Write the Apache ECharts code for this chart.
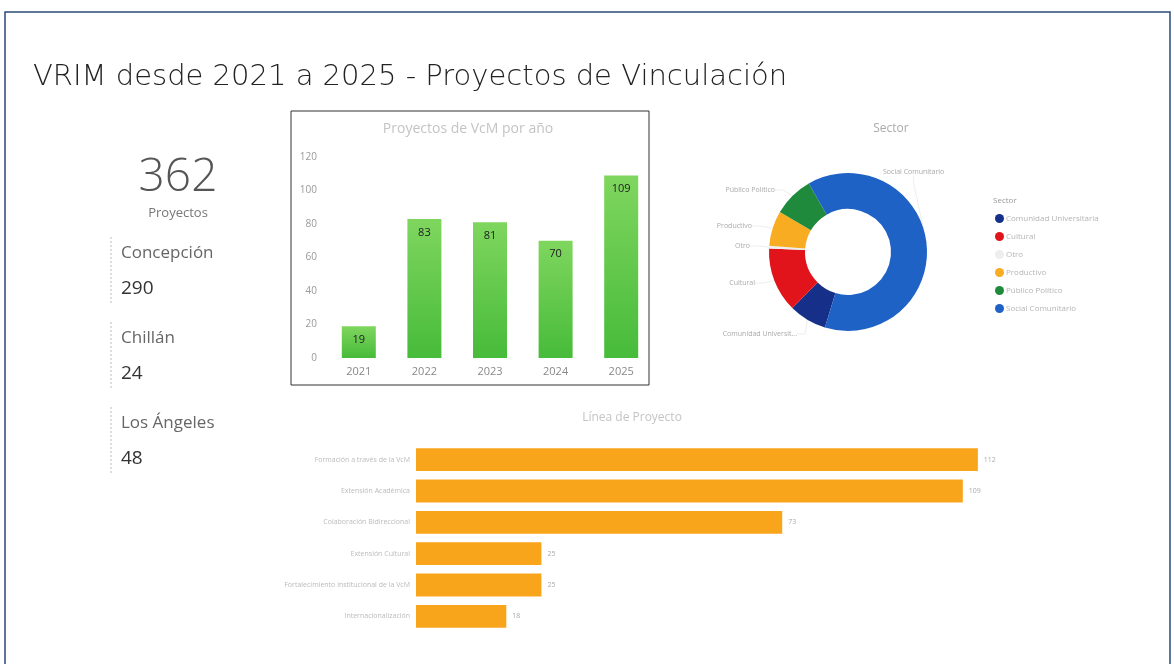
<!DOCTYPE html>
<html>
<head>
    <meta charset="utf-8" />
    <title>VRIM - Proyectos de Vinculación</title>
    <script src="https://cdn.jsdelivr.net/npm/echarts@6.0.0/dist/echarts.min.js"></script>
    <style>
        html, body { margin: 0; padding: 0; background: #fff; }
    </style>
</head>
<body>
    <div id="main" style="width: 1174px;height:664px;"></div>

    <script type="text/javascript">
        // KPI block
        var totalProjects = 362;
        var campusNames = ['Concepción', 'Chillán', 'Los Ángeles'];
        var campusValues = [290, 24, 48];

        // Proyectos por año
        var years = ['2021', '2022', '2023', '2024', '2025'];
        var yearValues = [19, 83, 81, 70, 109];

        // Sector (donut)
        var sectorNames = ['Comunidad Universitaria', 'Cultural', 'Otro', 'Productivo', 'Público Político', 'Social Comunitario'];
        var sectorValues = [28, 48, 2, 26, 30, 228];
        var sectorColors = ['#16308a', '#e0141a', '#eeeeee', '#f8ac22', '#1f8a3c', '#1f62c6'];

        // Línea de Proyecto
        var lineNames = ['Formación a través de la VcM', 'Extensión Académica', 'Colaboración Bidireccional', 'Extensión Cultural', 'Fortalecimiento institucional de la VcM', 'Internacionalización'];
        var lineValues = [112, 109, 73, 25, 25, 18];

        var myChart = echarts.init(document.getElementById('main'));

        var font = "'Open Sans', 'Noto Sans', sans-serif";

        // text for the left KPI column
        var kpiGraphics = [
            { type: 'text', x: 178, y: 178, style: { text: String(totalProjects), font: '300 46px ' + font, fill: '#555', textAlign: 'center', textVerticalAlign: 'middle' } },
            { type: 'text', x: 178, y: 213, style: { text: 'Proyectos', font: '13px ' + font, fill: '#777', textAlign: 'center', textVerticalAlign: 'middle' } }
        ];
        campusNames.forEach(function (name, i) {
            var y0 = 237 + i * 85;
            kpiGraphics.push({ type: 'line', shape: { x1: 111, y1: y0, x2: 111, y2: y0 + 68 }, style: { stroke: '#bbb', lineWidth: 1, lineDash: [2, 2] } });
            kpiGraphics.push({ type: 'text', x: 121, y: y0 + 16, style: { text: name, font: '17px ' + font, fill: '#666', textVerticalAlign: 'middle' } });
            kpiGraphics.push({ type: 'text', x: 121, y: y0 + 52, style: { text: String(campusValues[i]), font: '19px ' + font, fill: '#333', textVerticalAlign: 'middle' } });
        });

        var option = {
            backgroundColor: '#fff',
            textStyle: { fontFamily: font },
            graphic: [
                { type: 'rect', shape: { x: 5, y: 12, width: 1165, height: 660 }, style: { fill: 'none', stroke: '#2a4a7a', lineWidth: 1.5 } },
                { type: 'text', x: 33, y: 77, style: { text: 'VRIM desde 2021 a 2025 - Proyectos de Vinculación', font: "300 29px 'DejaVu Sans', sans-serif", fill: '#222', textVerticalAlign: 'middle' } },
                { type: 'rect', shape: { x: 291, y: 111, width: 358, height: 274 }, style: { fill: 'none', stroke: '#333', lineWidth: 1 } },
                { type: 'text', x: 468, y: 129, style: { text: 'Proyectos de VcM por año', font: '14px ' + font, fill: '#c4c4c4', textAlign: 'center', textVerticalAlign: 'middle' } },
                { type: 'text', x: 891, y: 129, style: { text: 'Sector', font: '12px ' + font, fill: '#aaa', textAlign: 'center', textVerticalAlign: 'middle' } },
                { type: 'text', x: 993, y: 201, style: { text: 'Sector', font: '8px ' + font, fill: '#999', textVerticalAlign: 'middle' } },
                { type: 'text', x: 632, y: 418, style: { text: 'Línea de Proyecto', font: '12px ' + font, fill: '#c4c4c4', textAlign: 'center', textVerticalAlign: 'middle' } }
            ].concat(kpiGraphics),
            legend: {
                orient: 'vertical',
                left: 990,
                top: 209,
                itemWidth: 9,
                itemHeight: 9,
                itemGap: 9,
                icon: 'circle',
                data: sectorNames,
                textStyle: { fontSize: 8, color: '#b5b5b5', padding: [0, 0, 0, -3] }
            },
            grid: [
                { left: 326, top: 157, width: 328, height: 201 },
                { left: 416, top: 444, width: 602, height: 188 }
            ],
            xAxis: [
                {
                    gridIndex: 0,
                    type: 'category',
                    data: years,
                    axisLine: { show: false },
                    axisTick: { show: false },
                    axisLabel: { color: '#888', fontSize: 11, margin: 8 }
                },
                {
                    gridIndex: 1,
                    type: 'value',
                    min: 0,
                    max: 120,
                    show: false
                }
            ],
            yAxis: [
                {
                    gridIndex: 0,
                    type: 'value',
                    min: 0,
                    max: 120,
                    interval: 20,
                    splitLine: { show: false },
                    axisLine: { show: false },
                    axisTick: { show: false },
                    axisLabel: { color: '#999', fontSize: 10, margin: 9 }
                },
                {
                    gridIndex: 1,
                    type: 'category',
                    data: lineNames,
                    inverse: true,
                    axisLine: { show: false },
                    axisTick: { show: false },
                    axisLabel: { color: '#bbb', fontSize: 7, margin: 6 }
                }
            ],
            series: [
                {
                    type: 'bar',
                    xAxisIndex: 0,
                    yAxisIndex: 0,
                    data: yearValues,
                    barWidth: 34,
                    itemStyle: {
                        color: new echarts.graphic.LinearGradient(0, 0, 0, 1, [
                            { offset: 0, color: '#7fd65e' },
                            { offset: 1, color: '#47bb3a' }
                        ])
                    },
                    label: {
                        show: true,
                        position: 'insideTop',
                        distance: 8,
                        color: '#222',
                        fontSize: 11
                    }
                },
                {
                    type: 'pie',
                    center: [848, 252],
                    radius: [43, 79],
                    startAngle: 253,
                    clockwise: true,
                    avoidLabelOverlap: false,
                    data: sectorNames.map(function (n, i) {
                        return { name: n, value: sectorValues[i], itemStyle: { color: sectorColors[i] } };
                    }),
                    label: {
                        show: true,
                        position: 'outside',
                        fontSize: 7,
                        color: '#aaa',
                        width: 76,
                        overflow: 'truncate',
                        ellipsis: '...'
                    },
                    labelLine: { show: true, length: 6, length2: 8, lineStyle: { color: '#eeeeee', width: 1 } },
                    labelLayout: function (params) {
                        // Power BI style label spots
                        var spots = [
                            { x: 797, y: 334, align: 'right' },
                            { x: 755, y: 283, align: 'right' },
                            { x: 750, y: 246, align: 'right' },
                            { x: 752, y: 226, align: 'right' },
                            { x: 775, y: 190, align: 'right' },
                            { x: 883, y: 172, align: 'left' }
                        ];
                        var s = spots[params.dataIndex];
                        return { x: s.x, y: s.y, align: s.align, verticalAlign: 'middle' };
                    },
                    emphasis: { disabled: true }
                },
                {
                    type: 'bar',
                    xAxisIndex: 1,
                    yAxisIndex: 1,
                    data: lineValues,
                    barCategoryGap: '27%',
                    itemStyle: { color: '#f9a51c' },
                    label: {
                        show: true,
                        position: 'right',
                        distance: 6,
                        color: '#aaa',
                        fontSize: 7
                    }
                }
            ]
        };

        myChart.setOption(option);
    </script>
</body>
</html>
